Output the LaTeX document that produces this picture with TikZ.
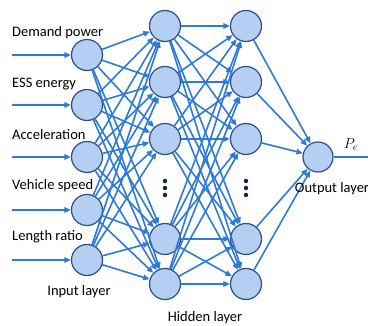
\documentclass[tikz,border=0pt]{standalone}
\usepackage{fontspec}
\setmainfont{Carlito}
\usetikzlibrary{arrows.meta}
\definecolor{nfill}{HTML}{B4CFF2}
\definecolor{nborder}{HTML}{2B4F8C}
\definecolor{lblue}{HTML}{2E7AD9}
\definecolor{dotc}{HTML}{10264F}
\begin{document}
\begin{tikzpicture}[x=1pt,y=-1pt,
  neuron/.style={circle,draw=nborder,fill=nfill,line width=1.2pt,minimum size=31pt,inner sep=0pt},
  conn/.style={draw=lblue,line width=1.6pt,-{Triangle[length=6.5pt,width=5.5pt]}},
  lab/.style={font=\fontsize{14.5}{16}\selectfont,inner sep=0pt},
  dotn/.style={circle,fill=dotc,inner sep=0pt,minimum size=4.5pt}]
\useasboundingbox (0,0) rectangle (368,326);
% input layer
\foreach \i/\y in {1/55,2/105,3/157,4/210,5/260}
  \node[neuron] (in\i) at (87,\y) {};
% hidden layers
\foreach \j/\y in {1/26,2/82,3/139,4/239,5/284}{
  \node[neuron] (ha\j) at (165,\y) {};
  \node[neuron] (hb\j) at (246,\y) {};
}
\node[neuron,minimum size=30pt] (out) at (318,157) {};
% dots
\foreach \y [count=\k] in {181,188,195}{
  \node[dotn] (da\k) at (165,\y) {};
  \node[dotn] (db\k) at (246,\y) {};
}
% input arrows
\foreach \i/\y in {1/55,2/105,3/157,4/210,5/260}{
  \coordinate (s\i) at (12,\y);
  \draw[conn] (s\i) -- (in\i);
}
% connections
\foreach \i in {1,...,5}
  \foreach \j in {1,...,5}
    \draw[conn] (in\i) -- (ha\j);
\foreach \i in {1,...,5}
  \foreach \j in {1,...,5}
    \draw[conn] (ha\i) -- (hb\j);
\foreach \j in {1,...,5}
  \draw[conn] (hb\j) -- (out);
\coordinate (pend) at (368,157);
\draw[draw=lblue,line width=1.6pt] (out) -- (pend);
% labels
\node[lab,anchor=west] (l1) at (12,33) {Demand power};
\node[lab,anchor=west] (l2) at (12,84) {ESS energy};
\node[lab,anchor=west] (l3) at (12,135) {Acceleration};
\node[lab,anchor=west] (l4) at (12,186) {Vehicle speed};
\node[lab,anchor=west] (l5) at (12,237) {Length ratio};
\node[lab] (il) at (79,292) {Input layer};
\node[lab] (hl) at (205,318) {Hidden layer};
\node[lab] (ol) at (332,189) {Output layer};
\node[inner sep=0pt,font=\fontsize{14}{16}\selectfont] (pe) at (351,145) {$P_e$};
\end{tikzpicture}
\end{document}
